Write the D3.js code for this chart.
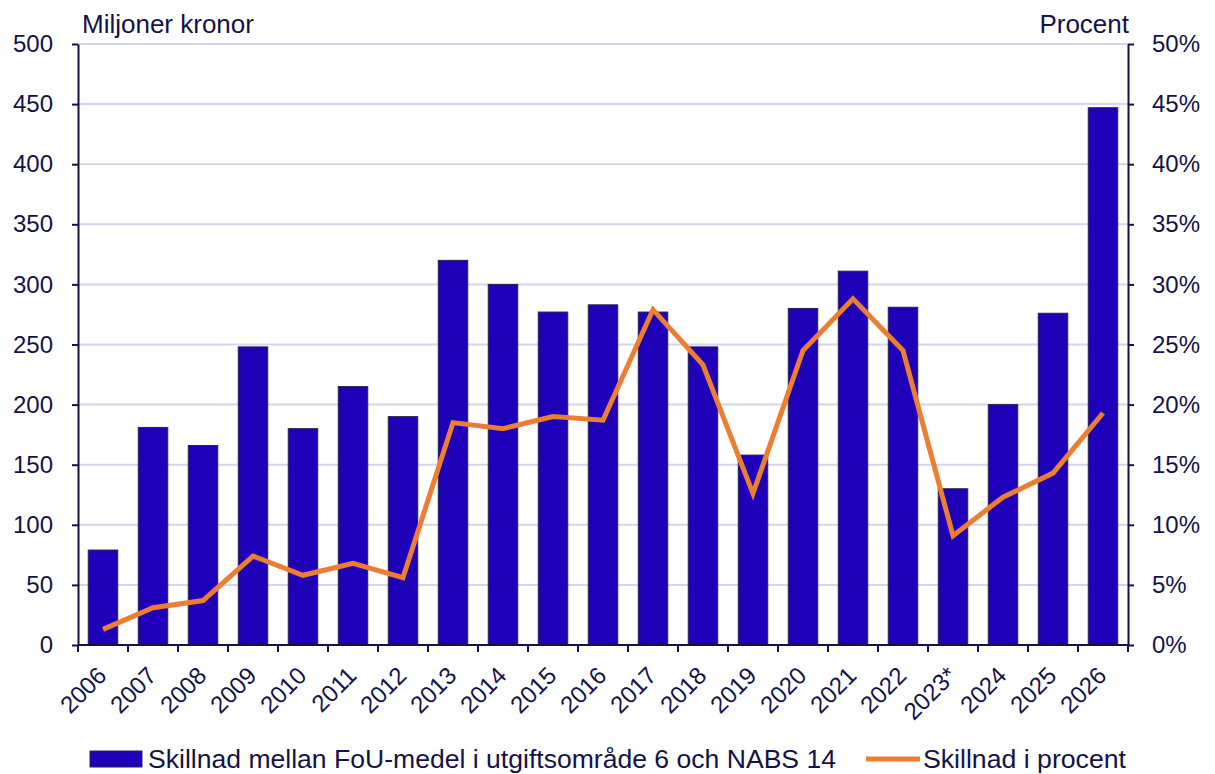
<!DOCTYPE html>
<html>
<head>
<meta charset="utf-8">
<script src="https://cdn.jsdelivr.net/npm/d3@7"></script>
<style>
  body { margin: 0; background: #fff; }
  text { font-family: "Liberation Sans", Arial, sans-serif; fill: #14124a; }
</style>
</head>
<body>
<div id="chart"></div>
<script>
// data
var years = ["2006","2007","2008","2009","2010","2011","2012","2013","2014","2015","2016",
             "2017","2018","2019","2020","2021","2022","2023*","2024","2025","2026"];
var skillnad = [79,181,166,248,180,215,190,320,300,277,283,277,248,158,280,311,281,130,200,276,447];
var procent = [1.3,3.1,3.7,7.4,5.8,6.8,5.6,18.5,18.0,19.0,18.7,27.9,23.3,12.6,24.5,28.8,24.5,9.1,12.3,14.3,19.3];
var leftTicks = [0,50,100,150,200,250,300,350,400,450,500];
var rightTicks = [0,5,10,15,20,25,30,35,40,45,50];

var W = 1215, H = 774;
var margin = {top: 44, right: 87, bottom: 129, left: 78},
    width = W - margin.left - margin.right,
    height = H - margin.top - margin.bottom;

var ink = "#14124a";

var svg = d3.select("#chart").append("svg")
  .attr("width", W)
  .attr("height", H);

var g = svg.append("g")
  .attr("transform", "translate(" + margin.left + "," + margin.top + ")");

var x = d3.scaleBand().domain(years).range([0, width]).paddingInner(0.41).paddingOuter(0.205);
var xb = d3.scaleBand().domain(years).range([0, width]);
var y = d3.scaleLinear().domain([0, 500]).range([height, 0]);
var y2 = d3.scaleLinear().domain([0, 50]).range([height, 0]);

// gridlines
g.selectAll(".grid").data(leftTicks.slice(1))
  .enter().append("line")
  .attr("x1", 0).attr("x2", width)
  .attr("y1", function(d){ return y(d); })
  .attr("y2", function(d){ return y(d); })
  .attr("stroke", "#d4d4ee")
  .attr("stroke-width", 2);

// bars
g.selectAll(".bar").data(skillnad)
  .enter().append("rect")
  .attr("x", function(d, i){ return x(years[i]); })
  .attr("y", function(d){ return y(d); })
  .attr("width", x.bandwidth())
  .attr("height", function(d){ return height - y(d); })
  .attr("fill", "#1f00b9")
  .attr("stroke", "#2a2450")
  .attr("stroke-width", 1);

// line
var line = d3.line()
  .x(function(d, i){ return xb(years[i]) + xb.bandwidth() / 2; })
  .y(function(d){ return y2(d); });

g.append("path")
  .datum(procent)
  .attr("d", line)
  .attr("fill", "none")
  .attr("stroke", "#ed7d31")
  .attr("stroke-width", 5)
  .attr("stroke-linejoin", "miter");

// left axis
var la = g.append("g")
  .call(d3.axisLeft(y).tickValues(leftTicks).tickSize(6).tickSizeOuter(0).tickPadding(19));

// right axis
var ra = g.append("g")
  .attr("transform", "translate(" + width + ",0)")
  .call(d3.axisRight(y2).tickValues(rightTicks).tickSize(6).tickSizeOuter(0).tickPadding(18)
        .tickFormat(function(d){ return d + "%"; }));

// bottom axis: ticks between bands
var ba = g.append("g")
  .attr("transform", "translate(0," + height + ")");
ba.append("line").attr("x1", 0).attr("x2", width).attr("stroke", ink).attr("stroke-width", 2);
ba.selectAll(".tk").data(d3.range(years.length + 1))
  .enter().append("line")
  .attr("x1", function(d){ return d * xb.step(); })
  .attr("x2", function(d){ return d * xb.step(); })
  .attr("y1", 0).attr("y2", 7)
  .attr("stroke", ink).attr("stroke-width", 2);
ba.selectAll(".lbl").data(years)
  .enter().append("text")
  .attr("transform", function(d){
    return "translate(" + (xb(d) + xb.bandwidth() / 2 + 5) + ",32) rotate(-45)";
  })
  .attr("text-anchor", "end")
  .style("font-size", "24px")
  .text(function(d){ return d; });

[la, ra].forEach(function(a){
  a.select(".domain").attr("stroke", ink).attr("stroke-width", 2);
  a.selectAll(".tick line").attr("stroke", ink).attr("stroke-width", 2);
  a.selectAll("text").style("fill", ink).style("font-size", "24px")
    .style("font-family", "Liberation Sans, Arial, sans-serif");
});

// axis titles
svg.append("text").attr("x", 82).attr("y", 33).style("font-size", "26px").text("Miljoner kronor");
svg.append("text").attr("x", 1129).attr("y", 33).attr("text-anchor", "end").style("font-size", "26px").text("Procent");

// legend
var leg = svg.append("g");
leg.append("rect").attr("x", 90).attr("y", 751).attr("width", 52).attr("height", 16)
  .attr("fill", "#1f00b9").attr("stroke", "#2a2450");
leg.append("text").attr("x", 148).attr("y", 768).style("font-size", "26px")
  .attr("textLength", 688).attr("lengthAdjust", "spacingAndGlyphs")
  .text("Skillnad mellan FoU-medel i utgiftsområde 6 och NABS 14");
leg.append("line").attr("x1", 866).attr("x2", 920).attr("y1", 759).attr("y2", 759)
  .attr("stroke", "#ed7d31").attr("stroke-width", 5);
leg.append("text").attr("x", 923).attr("y", 768).style("font-size", "26px")
  .attr("textLength", 203).attr("lengthAdjust", "spacingAndGlyphs")
  .text("Skillnad i procent");
</script>
</body>
</html>
